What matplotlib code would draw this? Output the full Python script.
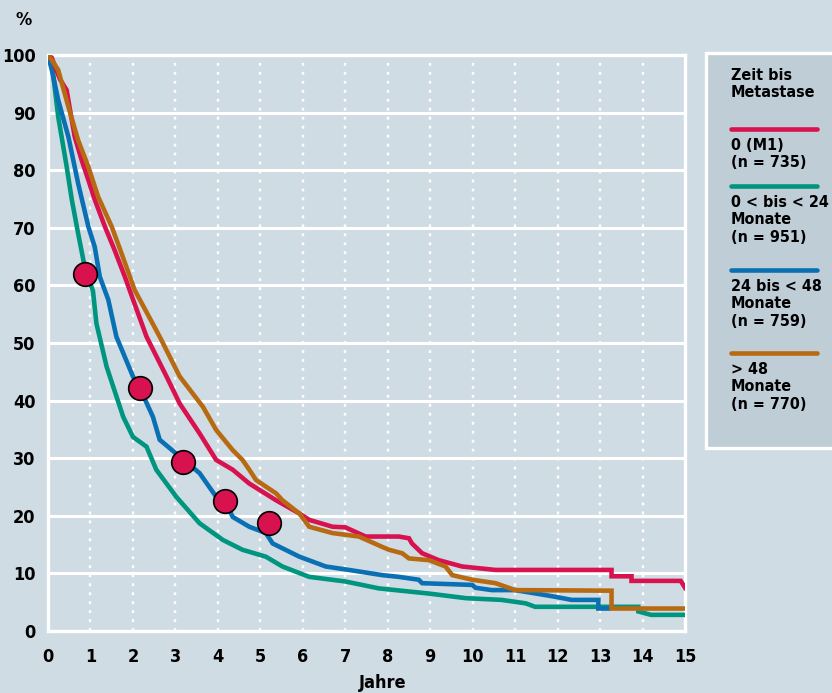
"""
Überleben nach Zeit bis Metastase (Kaplan-Meier), Nachbau als Matplotlib-Grafik.
"""
import matplotlib
matplotlib.use('Agg')
import matplotlib.pyplot as plt
from matplotlib import font_manager
from matplotlib.patches import Rectangle
from matplotlib.lines import Line2D

# --- Daten ---
t_m1 = [0, 0.09, 0.28, 0.44, 0.52, 0.63, 0.79, 0.95, 1.10, 1.34, 1.57, 1.81, 1.98, 2.32, 2.79,
        3.10, 3.57, 3.96, 4.35, 4.74, 5.37, 5.92, 6.15, 6.70, 7.0, 7.48, 8.26, 8.50, 8.57, 8.81,
        9.20, 9.75, 10.54, 13.27, 13.27, 13.74, 13.74, 14.9, 15.0]
s_m1 = [100, 99.5, 95.8, 93.9, 90.4, 85.8, 81.8, 78.3, 74.9, 70.2, 66.1, 61.5, 58.0, 51.1, 44.2,
        39.5, 34.3, 29.7, 28.0, 25.6, 22.7, 20.4, 19.3, 18.1, 18.0, 16.4, 16.4, 16.1, 15.2, 13.5,
        12.3, 11.2, 10.6, 10.6, 9.5, 9.5, 8.7, 8.7, 7.5]

t_lt24 = [0, 0.09, 0.24, 0.44, 0.56, 0.71, 0.87, 1.06, 1.14, 1.38, 1.77, 2.00, 2.32, 2.55, 3.02,
          3.57, 4.12, 4.58, 5.13, 5.52, 6.15, 7.0, 7.79, 8.97, 9.84, 10.68, 11.25, 11.47, 13.9,
          13.9, 14.2, 15.0]
s_lt24 = [100, 98.6, 89.3, 80.6, 74.9, 69.0, 63.0, 59.0, 53.4, 45.9, 37.2, 33.7, 32.0, 28.0, 23.3,
          18.7, 15.8, 14.1, 12.9, 11.2, 9.4, 8.6, 7.4, 6.5, 5.7, 5.4, 4.8, 4.2, 4.2,
          3.4, 2.8, 2.8]

t_24_48 = [0, 0.09, 0.24, 0.48, 0.71, 0.95, 1.10, 1.22, 1.42, 1.61, 2.00, 2.16, 2.47, 2.63, 3.10,
           3.57, 3.96, 4.18, 4.35, 4.74, 5.13, 5.29, 5.92, 6.54, 7.09, 7.87, 8.26, 8.73, 8.81,
           9.99, 10.07, 10.45, 11.0, 11.9, 12.33, 12.96, 12.96, 13.2]
s_24_48 = [100, 97.4, 92.2, 85.8, 77.7, 70.2, 66.7, 61.5, 57.5, 51.1, 44.2, 42.2, 37.2, 33.2, 30.3,
           27.4, 23.3, 22.4, 19.8, 18.1, 17.0, 15.2, 12.9, 11.2, 10.6, 9.7, 9.4, 8.9, 8.3,
           8.0, 7.5, 7.1, 7.1, 6.0, 5.4, 5.4, 3.9, 3.9]

t_gt48 = [0, 0.1, 0.24, 0.48, 0.71, 0.95, 1.18, 1.50, 1.73, 2.04, 2.63, 3.10, 3.65, 3.96, 4.35,
          4.58, 4.74, 4.90, 5.37, 5.52, 5.92, 6.15, 6.70, 7.32, 7.87, 8.03, 8.34, 8.50, 8.97,
          9.36, 9.52, 9.99, 10.54, 11.0, 13.27, 13.27, 15.0]
s_gt48 = [100, 99, 97.4, 91, 85.2, 80.6, 75.4, 70.2, 65.6, 59.2, 51.1, 44.2, 38.9, 34.9, 31.4,
          29.7, 28.0, 26.2, 23.9, 22.7, 20.4, 18.1, 17.0, 16.4, 14.6, 14.1, 13.5, 12.6, 12.3,
          11.2, 9.7, 8.9, 8.3, 7.1, 7.0, 3.9, 3.9]

# rote Punkte
dot_t = [0.88, 2.16, 3.19, 4.17, 5.21]
dot_s = [62.0, 42.2, 29.4, 22.6, 18.7]

labels = ['0 (M1)\n(n = 735)', '0 < bis < 24\nMonate\n(n = 951)',
          '24 bis < 48\nMonate\n(n = 759)', '> 48\nMonate\n(n = 770)']

RED, GREEN, BLUE, ORANGE = '#d7124f', '#00957f', '#0a70b4', '#b86a12'
BG = '#d0dce4'

# schmale Schrift suchen, sonst Roboto
cond = [f for f in font_manager.fontManager.ttflist
        if ('Condensed' in f.fname or 'Narrow' in f.fname) and f.weight in (600, 700, 'bold')]
if cond:
    fp = font_manager.FontProperties(fname=cond[0].fname)
    FS, FS_LEG = 13, 11.5
else:
    fp = font_manager.FontProperties(family='Roboto', weight='bold')
    FS, FS_LEG = 12.5, 11

fig = plt.figure(figsize=(8.32, 6.93), dpi=100, facecolor=BG)
ax = fig.add_axes([48/832, 62/693, 637/832, 576/693], facecolor=BG)

ax.plot(t_lt24, s_lt24, color=GREEN, lw=3.3, zorder=3, solid_joinstyle='miter')
ax.plot(t_24_48, s_24_48, color=BLUE, lw=3.3, zorder=4, solid_joinstyle='miter')
ax.plot(t_m1, s_m1, color=RED, lw=3.3, zorder=5, solid_joinstyle='miter')
ax.plot(t_gt48, s_gt48, color=ORANGE, lw=3.3, zorder=6, solid_joinstyle='miter')
ax.plot(dot_t, dot_s, 'o', ms=17, mfc=RED, mec='black', mew=1.2, zorder=7)

ax.set_xlim(0, 15)
ax.set_ylim(0, 100)
ax.set_xticks(range(16))
ax.set_yticks(range(0, 101, 10))
ax.tick_params(length=0)
ax.tick_params(axis='x', pad=12)
ax.tick_params(axis='y', pad=9)
for lbl in ax.get_xticklabels() + ax.get_yticklabels():
    lbl.set_fontproperties(fp)
    lbl.set_fontsize(FS)

for y in range(10, 101, 10):
    ax.axhline(y, color='white', lw=2.2, zorder=1)
for x in range(1, 15):
    ax.axvline(x, color='white', lw=1.7, ls=(0, (1.2, 2.6)), zorder=1)

for side in ['left', 'bottom', 'right', 'top']:
    ax.spines[side].set_color('white')
    ax.spines[side].set_linewidth(2.4)

fig.text(383/832, 1 - 683/693, 'Jahre', ha='center', va='center', fontproperties=fp, fontsize=FS)
fig.text(24/832, 1 - 20/693, '%', ha='center', va='center', fontproperties=fp, fontsize=FS)

# Legende als eigener Kasten
W, H = 832, 693
fig.patches.append(Rectangle((706/W, 1 - 448/H), 140/W, 395/H, transform=fig.transFigure,
                             facecolor='#bfcdd7', edgecolor='white', lw=2.4, zorder=0))
fig.text(731/W, 1 - 68/H, 'Zeit bis\nMetastase', ha='left', va='top', fontproperties=fp,
         fontsize=FS_LEG, linespacing=1.2)
colors = [RED, GREEN, BLUE, ORANGE]
line_y = [129, 186, 270, 353]
for c, ly, lab in zip(colors, line_y, labels):
    fig.lines.append(Line2D([731/W, 817/W], [1 - ly/H, 1 - ly/H], transform=fig.transFigure,
                            color=c, lw=3.3, solid_capstyle='round'))
    fig.text(731/W, 1 - (ly + 9)/H, lab, ha='left', va='top', fontproperties=fp,
             fontsize=FS_LEG, linespacing=1.2)

fig.savefig('out.png', dpi=100, facecolor=BG)
